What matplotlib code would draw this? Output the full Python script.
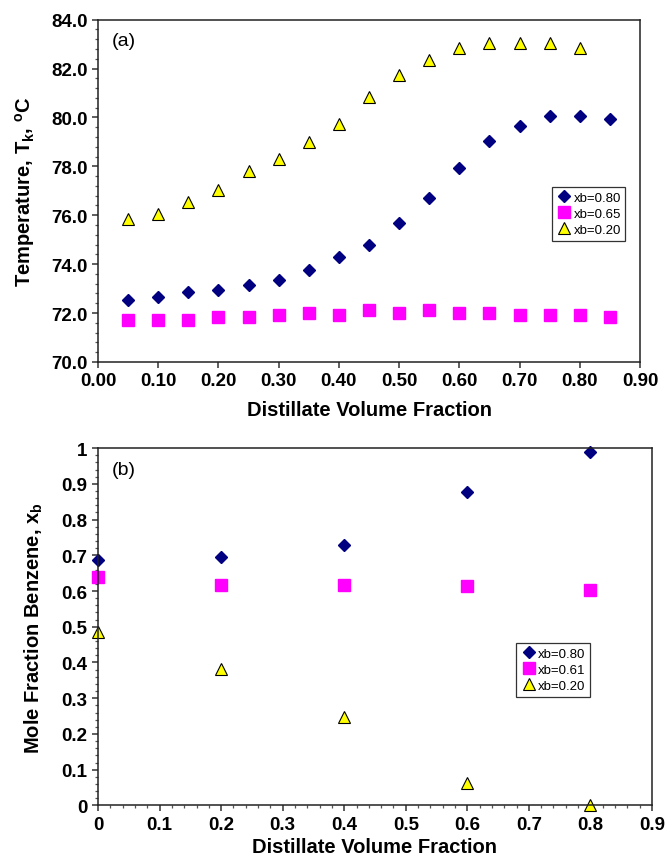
import matplotlib
matplotlib.use("Agg")
import matplotlib.pyplot as plt
from matplotlib.ticker import MultipleLocator, FormatStrFormatter

plt.rcParams['font.family'] = ['Liberation Sans', 'DejaVu Sans']
plt.rcParams['mathtext.fontset'] = 'custom'
plt.rcParams['mathtext.rm'] = 'Liberation Sans'
plt.rcParams['mathtext.bf'] = 'Liberation Sans:bold'

# panel (a): temperature vs distillate fraction
frac_a = [0.05, 0.10, 0.15, 0.20, 0.25, 0.30, 0.35, 0.40, 0.45,
          0.50, 0.55, 0.60, 0.65, 0.70, 0.75, 0.80, 0.85]
temp_080 = [72.55, 72.65, 72.85, 72.95, 73.15, 73.35, 73.75, 74.28, 74.78,
            75.7, 76.7, 77.92, 79.05, 79.65, 80.05, 80.05, 79.95]
temp_065 = [71.72, 71.72, 71.72, 71.82, 71.82, 71.92, 72.02, 71.92, 72.12,
            72.02, 72.12, 72.02, 72.02, 71.92, 71.92, 71.92, 71.82]
frac_a_020 = frac_a[:16]
temp_020 = [75.85, 76.05, 76.55, 77.05, 77.8, 78.3, 79.0, 79.72, 80.82,
            81.72, 82.35, 82.85, 83.05, 83.05, 83.05, 82.85]

# panel (b): mole fraction benzene vs distillate fraction
frac_b = [0.0, 0.2, 0.4, 0.6, 0.8]
xb_080 = [0.688, 0.696, 0.729, 0.876, 0.99]
xb_061 = [0.640, 0.617, 0.617, 0.613, 0.604]
xb_020 = [0.485, 0.383, 0.247, 0.064, 0.0]

navy = '#000080'
magenta = '#FF00FF'
yellow = '#FFFF00'

fig = plt.figure(figsize=(6.65, 8.62), dpi=100)
ax1 = fig.add_axes([0.1474, 0.579, 0.815, 0.397])
ax2 = fig.add_axes([0.1474, 0.0645, 0.833, 0.4145])

lab_font = dict(fontsize=14.5, fontweight='bold')


def style_axes(ax):
    for s in ax.spines.values():
        s.set_linewidth(1.1)
        s.set_color('#222222')
    ax.tick_params(which='major', direction='out', length=4, width=1.1,
                   labelsize=13.5, color='#333333')
    ax.tick_params(which='minor', direction='out', length=2.5, width=0.9,
                   color='#555555')
    for lbl in ax.get_xticklabels() + ax.get_yticklabels():
        lbl.set_fontweight('bold')


ax1.plot(frac_a, temp_080, 'D', color=navy, ms=6.5, mec=navy, ls='none', label='xb=0.80')
ax1.plot(frac_a, temp_065, 's', color=magenta, ms=8, mec=magenta, ls='none', label='xb=0.65')
ax1.plot(frac_a_020, temp_020, '^', color=yellow, ms=8, mec='black', mew=0.8, ls='none', label='xb=0.20')
ax1.set_xlim(0, 0.9)
ax1.set_ylim(70, 84)
ax1.xaxis.set_major_locator(MultipleLocator(0.1))
ax1.yaxis.set_major_locator(MultipleLocator(2))
ax1.yaxis.set_minor_locator(MultipleLocator(0.4))
ax1.xaxis.set_major_formatter(FormatStrFormatter('%.2f'))
ax1.yaxis.set_major_formatter(FormatStrFormatter('%.1f'))
ax1.set_xlabel('Distillate Volume Fraction', labelpad=8, **lab_font)
ax1.set_ylabel(r'Temperature, T$_\mathbf{k}$, $^\mathbf{o}$C', labelpad=10, **lab_font)
ax1.text(0.025, 0.965, '(a)', transform=ax1.transAxes, fontsize=14, va='top')
style_axes(ax1)
leg1 = ax1.legend(loc='upper left', bbox_to_anchor=(0.837, 0.512), fontsize=9.5,
                  frameon=True, fancybox=False, edgecolor='black', borderpad=0.35,
                  handletextpad=0.1, handlelength=1.2, labelspacing=0.3,
                  borderaxespad=0)
leg1.get_frame().set_linewidth(0.9)

ax2.plot(frac_b, xb_080, 'D', color=navy, ms=6.5, mec=navy, ls='none', label='xb=0.80', clip_on=False)
ax2.plot(frac_b, xb_061, 's', color=magenta, ms=8, mec=magenta, ls='none', label='xb=0.61', clip_on=False)
ax2.plot(frac_b, xb_020, '^', color=yellow, ms=8, mec='black', mew=0.8, ls='none', label='xb=0.20', clip_on=False)
ax2.set_xlim(0, 0.9)
ax2.set_ylim(0, 1)
ax2.xaxis.set_major_locator(MultipleLocator(0.1))
ax2.xaxis.set_minor_locator(MultipleLocator(0.02))
ax2.yaxis.set_major_locator(MultipleLocator(0.1))
ax2.yaxis.set_minor_locator(MultipleLocator(0.02))
ax2.xaxis.set_major_formatter(plt.FuncFormatter(lambda v, p: '%g' % round(v, 2)))
ax2.yaxis.set_major_formatter(plt.FuncFormatter(lambda v, p: '%g' % round(v, 2)))
ax2.set_xlabel('Distillate Volume Fraction', labelpad=3, **lab_font)
ax2.set_ylabel(r'Mole Fraction Benzene, x$_\mathbf{b}$', labelpad=12, **lab_font)
ax2.text(0.025, 0.965, '(b)', transform=ax2.transAxes, fontsize=14, va='top')
style_axes(ax2)
leg2 = ax2.legend(loc='upper left', bbox_to_anchor=(0.755, 0.455), fontsize=9.5,
                  frameon=True, fancybox=False, edgecolor='black', borderpad=0.35,
                  handletextpad=0.1, handlelength=1.2, labelspacing=0.3,
                  borderaxespad=0)
leg2.get_frame().set_linewidth(0.9)

fig.savefig('out.png', dpi=100)
